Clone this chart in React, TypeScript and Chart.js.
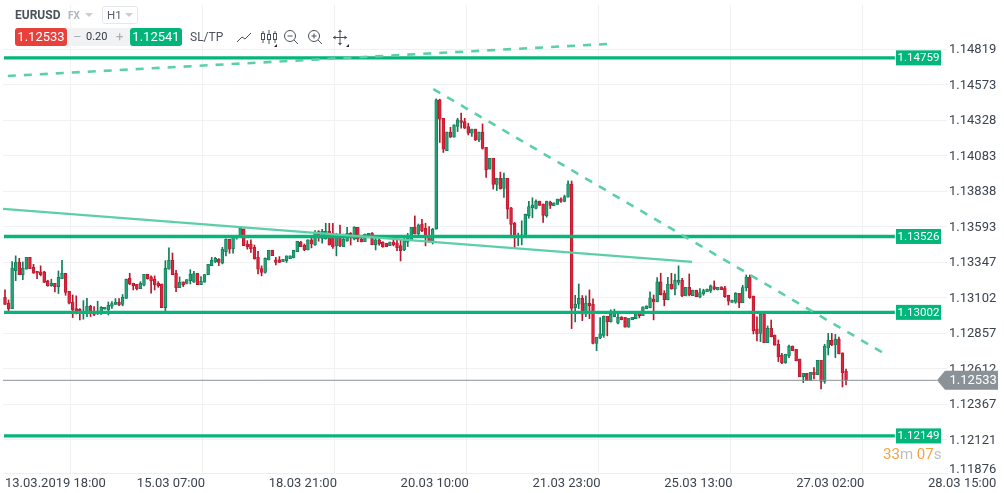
import React, { useEffect, useRef } from "react";
import { Chart, registerables } from "chart.js";

Chart.register(...registerables);

type Ohlc = [number, number, number, number];

// open, high, low, close, hourly bars
const barsMar13to15: Ohlc[] = [
  [1.13106,1.13157,1.13056,1.13056],[1.13065,1.13088,1.13014,1.13028],[1.13028,1.13352,1.13028,1.13306],[1.13290,1.13392,1.13221,1.13350],
  [1.13350,1.13375,1.13263,1.13263],[1.13263,1.13350,1.13228,1.13306],[1.13300,1.13382,1.13300,1.13382],[1.13382,1.13382,1.13304,1.13304],
  [1.13313,1.13334,1.13272,1.13272],[1.13286,1.13286,1.13235,1.13272],[1.13281,1.13323,1.13254,1.13263],[1.13281,1.13286,1.13208,1.13208],
  [1.13219,1.13224,1.13182,1.13187],[1.13187,1.13231,1.13182,1.13203],[1.13203,1.13203,1.13143,1.13180],[1.13180,1.13288,1.13132,1.13244],
  [1.13235,1.13362,1.13235,1.13272],[1.13272,1.13272,1.13120,1.13139],[1.13148,1.13148,1.13060,1.13065],[1.13072,1.13122,1.12966,1.13019],
  [1.13028,1.13116,1.12991,1.13012],[1.13024,1.13028,1.12950,1.13010],[1.12996,1.13083,1.12955,1.13010],[1.12996,1.13099,1.12973,1.13044],
  [1.13044,1.13051,1.12973,1.13007],[1.12994,1.13042,1.12980,1.12987],[1.12991,1.13079,1.12987,1.13005],[1.13005,1.13042,1.12987,1.13037],
  [1.13024,1.13037,1.13024,1.13037],[1.13019,1.13074,1.12984,1.13051],[1.13044,1.13076,1.13030,1.13063],[1.13056,1.13097,1.13056,1.13072],
  [1.13072,1.13097,1.13049,1.13053],[1.13056,1.13125,1.13047,1.13106],[1.13099,1.13231,1.13099,1.13231],[1.13237,1.13272,1.13194,1.13196],
  [1.13203,1.13203,1.13157,1.13187],[1.13196,1.13196,1.13157,1.13166],[1.13166,1.13214,1.13166,1.13203],[1.13189,1.13265,1.13185,1.13265],
  [1.13265,1.13265,1.13231,1.13235],[1.13247,1.13254,1.13134,1.13221],[1.13231,1.13254,1.13157,1.13194],[1.13203,1.13214,1.13175,1.13187],
  [1.13198,1.13198,1.13035,1.13035],[1.13035,1.13359,1.13012,1.13306],[1.13300,1.13447,1.13300,1.13362],[1.13362,1.13412,1.13263,1.13263],
  [1.13272,1.13293,1.13145,1.13173],[1.13173,1.13247,1.13173,1.13210],[1.13212,1.13212,1.13180,1.13194],[1.13201,1.13228,1.13198,1.13228],
  [1.13221,1.13297,1.13198,1.13265],[1.13210,1.13286,1.13208,1.13270],[1.13272,1.13272,1.13194,1.13194],[1.13194,1.13249,1.13194,1.13217],
  [1.13210,1.13265,1.13210,1.13263],[1.13263,1.13334,1.13263,1.13334],[1.13325,1.13382,1.13325,1.13362],[1.13350,1.13382,1.13346,1.13375],
  [1.13369,1.13373,1.13325,1.13346],
];

const barsMar18to20: Ohlc[] = [
  [1.13341,1.13451,1.13336,1.13438],[1.13421,1.13509,1.13392,1.13507],[1.13507,1.13507,1.13410,1.13438],[1.13442,1.13525,1.13410,1.13520],
  [1.13516,1.13530,1.13507,1.13525],[1.13520,1.13594,1.13520,1.13582],[1.13578,1.13578,1.13463,1.13463],[1.13474,1.13497,1.13438,1.13456],
  [1.13474,1.13502,1.13415,1.13442],[1.13451,1.13467,1.13369,1.13373],[1.13382,1.13424,1.13267,1.13300],[1.13304,1.13323,1.13254,1.13277],
  [1.13277,1.13378,1.13272,1.13375],[1.13364,1.13431,1.13364,1.13431],[1.13431,1.13431,1.13394,1.13394],[1.13364,1.13382,1.13329,1.13346],
  [1.13364,1.13387,1.13346,1.13346],[1.13352,1.13369,1.13352,1.13369],[1.13359,1.13392,1.13346,1.13392],[1.13373,1.13392,1.13373,1.13392],
  [1.13378,1.13431,1.13378,1.13431],[1.13421,1.13493,1.13421,1.13493],[1.13488,1.13493,1.13456,1.13456],[1.13465,1.13474,1.13428,1.13433],
  [1.13433,1.13502,1.13433,1.13502],[1.13502,1.13520,1.13447,1.13474],[1.13467,1.13566,1.13465,1.13553],[1.13559,1.13566,1.13493,1.13520],
  [1.13513,1.13576,1.13479,1.13562],[1.13511,1.13617,1.13507,1.13562],[1.13564,1.13617,1.13467,1.13467],[1.13548,1.13617,1.13444,1.13456],
  [1.13461,1.13548,1.13392,1.13536],[1.13518,1.13605,1.13456,1.13461],[1.13456,1.13543,1.13456,1.13507],[1.13493,1.13589,1.13493,1.13548],
  [1.13548,1.13553,1.13467,1.13530],[1.13507,1.13594,1.13502,1.13589],[1.13589,1.13589,1.13490,1.13507],[1.13507,1.13530,1.13488,1.13490],
  [1.13490,1.13543,1.13490,1.13543],[1.13534,1.13548,1.13534,1.13548],[1.13548,1.13553,1.13470,1.13470],[1.13470,1.13525,1.13433,1.13502],
  [1.13502,1.13507,1.13465,1.13474],[1.13486,1.13490,1.13451,1.13456],[1.13479,1.13479,1.13456,1.13456],[1.13463,1.13488,1.13463,1.13488],
  [1.13488,1.13507,1.13461,1.13467],[1.13481,1.13516,1.13428,1.13449],[1.13463,1.13507,1.13357,1.13428],[1.13433,1.13525,1.13428,1.13497],
  [1.13486,1.13548,1.13456,1.13516],[1.13502,1.13589,1.13502,1.13589],[1.13589,1.13668,1.13543,1.13543],[1.13543,1.13612,1.13536,1.13605],
  [1.13612,1.13645,1.13559,1.13566],[1.13582,1.13617,1.13461,1.13536],[1.13525,1.13594,1.13486,1.13493],[1.13490,1.13582,1.13474,1.13576],
];

const barsMar20to21: Ohlc[] = [
  [1.13577,1.14476,1.13577,1.14469],[1.14469,1.14474,1.14175,1.14336],[1.14342,1.14342,1.14106,1.14129],[1.14119,1.14246,1.14119,1.14246],
  [1.14246,1.14280,1.14209,1.14211],[1.14211,1.14296,1.14211,1.14296],[1.14285,1.14342,1.14250,1.14331],[1.14326,1.14377,1.14273,1.14313],
  [1.14319,1.14342,1.14271,1.14273],[1.14285,1.14308,1.14227,1.14239],[1.14239,1.14267,1.14216,1.14267],[1.14267,1.14267,1.14188,1.14193],
  [1.14193,1.14246,1.14181,1.14246],[1.14246,1.14303,1.14129,1.14133],[1.14142,1.14142,1.13933,1.13986],[1.13991,1.14066,1.13991,1.14066],
  [1.14066,1.14066,1.13853,1.13885],[1.13885,1.13928,1.13843,1.13928],[1.13928,1.13970,1.13853,1.13855],[1.13857,1.13963,1.13795,1.13928],
  [1.13928,1.13928,1.13650,1.13715],[1.13724,1.13728,1.13538,1.13609],[1.13618,1.13623,1.13443,1.13535],[1.13521,1.13549,1.13462,1.13533],
  [1.13521,1.13634,1.13468,1.13538],[1.13533,1.13680,1.13533,1.13680],[1.13669,1.13768,1.13652,1.13733],[1.13724,1.13793,1.13655,1.13742],
  [1.13719,1.13779,1.13717,1.13768],[1.13770,1.13770,1.13740,1.13740],[1.13749,1.13749,1.13623,1.13671],[1.13669,1.13770,1.13659,1.13770],
  [1.13763,1.13770,1.13719,1.13740],[1.13738,1.13758,1.13738,1.13758],[1.13747,1.13784,1.13747,1.13784],[1.13786,1.13793,1.13761,1.13768],
  [1.13768,1.13811,1.13765,1.13802],[1.13797,1.13910,1.13797,1.13889],
];

const barsMar21to25: Ohlc[] = [
  [1.13888,1.13909,1.12890,1.13030],[1.13035,1.13120,1.12936,1.13058],[1.13058,1.13198,1.13028,1.13099],[1.13099,1.13118,1.12945,1.12989],
  [1.12989,1.13116,1.12973,1.13065],[1.13065,1.13157,1.12959,1.13049],[1.13058,1.13095,1.12784,1.12787],[1.12787,1.12830,1.12738,1.12830],
  [1.12826,1.12966,1.12821,1.12853],[1.12842,1.12978,1.12830,1.12975],[1.12975,1.12975,1.12840,1.12938],[1.12938,1.13019,1.12934,1.12989],
  [1.12973,1.13024,1.12971,1.12996],[1.12927,1.12989,1.12922,1.12968],[1.12968,1.12973,1.12950,1.12952],[1.12968,1.12968,1.12899,1.12899],
  [1.12899,1.12961,1.12899,1.12961],[1.12952,1.12968,1.12952,1.12968],[1.12959,1.13001,1.12959,1.13001],[1.12994,1.13001,1.12964,1.12980],
  [1.12980,1.13040,1.12980,1.13040],[1.13028,1.13047,1.13028,1.13047],[1.13035,1.13143,1.13033,1.13102],[1.13093,1.13122,1.12950,1.13074],
  [1.13076,1.13242,1.13074,1.13212],[1.13212,1.13272,1.13122,1.13125],[1.13136,1.13152,1.13047,1.13090],[1.13090,1.13244,1.13088,1.13196],
  [1.13196,1.13272,1.13162,1.13164],[1.13164,1.13267,1.13122,1.13224],[1.13208,1.13323,1.13191,1.13224],[1.13224,1.13237,1.13111,1.13116],
  [1.13116,1.13175,1.13116,1.13175],[1.13175,1.13267,1.13116,1.13122],[1.13118,1.13155,1.13118,1.13155],[1.13155,1.13155,1.13111,1.13111],
  [1.13109,1.13166,1.13102,1.13139],[1.13129,1.13162,1.13120,1.13152],[1.13145,1.13162,1.13145,1.13162],[1.13150,1.13191,1.13139,1.13185],
  [1.13180,1.13219,1.13157,1.13162],[1.13157,1.13175,1.13157,1.13175],[1.13178,1.13178,1.13159,1.13159],[1.13171,1.13182,1.13106,1.13111],
  [1.13120,1.13120,1.13053,1.13079],[1.13070,1.13086,1.13070,1.13086],[1.13072,1.13139,1.13065,1.13134],
];

const barsMar26to27: Ohlc[] = [
  [1.13133,1.13133,1.13035,1.13069],[1.13069,1.13189,1.13069,1.13173],[1.13173,1.13260,1.13150,1.13246],[1.13246,1.13260,1.13099,1.13104],
  [1.13115,1.13115,1.12853,1.12876],[1.12887,1.12972,1.12805,1.12853],[1.12857,1.12991,1.12800,1.12991],[1.12991,1.12991,1.12793,1.12793],
  [1.12793,1.12908,1.12793,1.12892],[1.12892,1.12949,1.12832,1.12834],[1.12846,1.12846,1.12775,1.12775],[1.12782,1.12811,1.12662,1.12696],
  [1.12706,1.12719,1.12648,1.12655],[1.12655,1.12713,1.12650,1.12713],[1.12701,1.12777,1.12690,1.12770],[1.12770,1.12770,1.12738,1.12738],
  [1.12747,1.12747,1.12667,1.12669],[1.12680,1.12680,1.12558,1.12558],[1.12558,1.12581,1.12517,1.12581],[1.12581,1.12581,1.12531,1.12531],
  [1.12531,1.12588,1.12531,1.12588],[1.12588,1.12621,1.12542,1.12572],[1.12572,1.12671,1.12572,1.12671],[1.12671,1.12671,1.12473,1.12526],
  [1.12526,1.12782,1.12512,1.12770],[1.12756,1.12857,1.12708,1.12809],[1.12809,1.12857,1.12772,1.12777],[1.12777,1.12851,1.12690,1.12818],
  [1.12818,1.12832,1.12715,1.12717],[1.12722,1.12722,1.12487,1.12586],[1.12595,1.12611,1.12501,1.12533],
];

const priceTicks = [1.14819,1.14573,1.14328,1.14083,1.13838,1.13593,1.13347,1.13102,1.12857,1.12612,1.12367,1.12121,1.11876];
const timeTickBars = [0, 37, 74, 111, 148, 185, 222, 259];
const timeTickLabels = ["13.03.2019 18:00","15.03 07:00","18.03 21:00","20.03 10:00","21.03 23:00","25.03 13:00","27.03 02:00","28.03 15:00"];
const levels = [1.14759, 1.13526, 1.13002, 1.12149];
const currentPrice = 1.12533;
const trendTopDashed = [{ x: 0.8, y: 1.14634 }, { x: 169.2, y: 1.14855 }];
const trendSolid = [{ x: -0.56, y: 1.13716 }, { x: 192.8, y: 1.1335 }];
const trendFalling = [{ x: 120.2, y: 1.14544 }, { x: 246.4, y: 1.12722 }];

const candles: Ohlc[] = [...barsMar13to15, ...barsMar18to20, ...barsMar20to21, ...barsMar21to25, ...barsMar26to27];

const GREEN_FILL = "#23a274";
const GREEN_EDGE = "#0f7d58";
const RED_FILL = "#de233a";
const RED_EDGE = "#b8182e";
const LEVEL = "#05b57b";
const TREND = "#5ccfa8";
const GRID = "#f1f1f1";
const TEXT = "#3b4450";

const isUp = (c: Ohlc) => c[3] >= c[0];
const PX = (n: number) => n + "px";

const pillPlugin = {
  id: "pricePills",
  afterDraw(chart: any) {
    const { ctx, scales } = chart;
    ctx.save();
    ctx.font = "11.5px Roboto";
    ctx.textBaseline = "middle";
    levels.forEach((v) => {
      const y = scales.y.getPixelForValue(v);
      ctx.fillStyle = "#00b67a";
      ctx.fillRect(896, y - 7.5, 45, 15);
      ctx.fillStyle = "#fff";
      ctx.textAlign = "center";
      ctx.fillText(v.toFixed(5), 918.5, y + 0.5);
    });
    const y = scales.y.getPixelForValue(currentPrice);
    ctx.fillStyle = "#8a9197";
    ctx.beginPath();
    ctx.moveTo(937, y);
    ctx.lineTo(945, y - 9.5);
    ctx.lineTo(998, y - 9.5);
    ctx.lineTo(998, y + 9.5);
    ctx.lineTo(945, y + 9.5);
    ctx.closePath();
    ctx.fill();
    ctx.fillStyle = "#fff";
    ctx.font = "13px Roboto";
    ctx.textAlign = "left";
    ctx.fillText(currentPrice.toFixed(5), 949.5, y + 0.5);
    ctx.restore();
  },
};

const abs = (left: number, top: number, extra: React.CSSProperties = {}): React.CSSProperties => ({
  position: "absolute",
  left: PX(left),
  top: PX(top),
  fontFamily: "Roboto",
  whiteSpace: "nowrap",
  ...extra,
});

function Triangle({ x, y, color, w = 8, h = 4 }: { x: number; y: number; color: string; w?: number; h?: number }) {
  return (
    <svg style={abs(x, y)} width={w} height={h}>
      <polygon points={`0,0 ${w},0 ${w / 2},${h}`} fill={color} />
    </svg>
  );
}

function Toolbar() {
  const ic = { stroke: "#4a525b", strokeWidth: 1, fill: "none" };
  return (
    <>
      <div style={abs(15, 8, { fontSize: 12, fontWeight: 700, lineHeight: "15px", color: "#4c525b" })}>EURUSD</div>
      <div style={abs(68, 9, { fontSize: 10, fontWeight: 700, lineHeight: "13px", color: "#b0b6bd" })}>FX</div>
      <Triangle x={85} y={13} color="#c9cdd2" />
      <div style={abs(102, 6, { width: 36, height: 18, boxSizing: "border-box", border: "1px solid #e6e7e9", borderRadius: 3, background: "#fff" })} />
      <div style={abs(107, 8, { fontSize: 11.5, lineHeight: "15px", color: "#555c65" })}>H1</div>
      <Triangle x={125} y={13} color="#c9cdd2" />
      <div style={abs(15, 28, { width: 167, height: 18, background: "#f1f2f4", borderRadius: 3 })} />
      <div style={abs(15, 28, { width: 52, height: 18, background: "#e8413b", borderRadius: 3, color: "#fff", fontSize: 13, lineHeight: "18px", textAlign: "center" })}>1.12533</div>
      <div style={abs(73, 28, { fontSize: 13, lineHeight: "18px", color: "#a9aeb4" })}>–</div>
      <div style={abs(86, 28, { fontSize: 11, lineHeight: "18px", color: "#333a42" })}>0.20</div>
      <div style={abs(116, 28, { fontSize: 13, lineHeight: "18px", color: "#a9aeb4" })}>+</div>
      <div style={abs(130, 28, { width: 52, height: 18, background: "#00b47a", borderRadius: 3, color: "#fff", fontSize: 13, lineHeight: "18px", textAlign: "center" })}>1.12541</div>
      <div style={abs(190, 29, { fontSize: 12, lineHeight: "16px", color: "#4a525c" })}>SL/TP</div>
      <svg style={abs(230, 26)} width={124} height={24}>
        <polyline points="7,16 12,11 15,13 21,7" {...ic} />
        <line x1="33" y1="5" x2="33" y2="17" {...ic} />
        <rect x="31.5" y="7.5" width="3" height="6" {...ic} fill="#fff" />
        <line x1="39" y1="4" x2="39" y2="18" {...ic} />
        <rect x="37.5" y="8.5" width="3" height="5" {...ic} fill="#fff" />
        <line x1="45" y1="5" x2="45" y2="17" {...ic} />
        <rect x="43.5" y="7.5" width="3" height="6" {...ic} fill="#fff" />
        <polygon points="44,21 47,21 47,18" fill="#222" />
        <circle cx="60" cy="10" r="5.5" {...ic} />
        <line x1="57.5" y1="10" x2="62.5" y2="10" {...ic} />
        <line x1="64" y1="14" x2="68" y2="18" {...ic} />
        <circle cx="84" cy="10" r="5.5" {...ic} />
        <line x1="81.5" y1="10" x2="86.5" y2="10" {...ic} />
        <line x1="84" y1="7.5" x2="84" y2="12.5" {...ic} />
        <line x1="88" y1="14" x2="92" y2="18" {...ic} />
        <line x1="103" y1="11.5" x2="117" y2="11.5" {...ic} />
        <line x1="110" y1="5" x2="110" y2="18" {...ic} />
        <polygon points="110,3.5 108,6 112,6" fill="#4a525b" />
        <polygon points="110,19.5 108,17 112,17" fill="#4a525b" />
        <polygon points="103,11.5 105.5,9.5 105.5,13.5" fill="#4a525b" />
        <polygon points="117,11.5 114.5,9.5 114.5,13.5" fill="#4a525b" />
        <polygon points="116,21 119,21 119,18" fill="#222" />
      </svg>
    </>
  );
}

export default function App() {
  const ref = useRef<HTMLCanvasElement | null>(null);

  useEffect(() => {
    document.body.style.margin = "0";
    document.body.style.background = "#fff";
    const levelSets = levels.map((v) => ({
      type: "line" as const,
      data: [{ x: -0.28, y: v }, { x: 249.7, y: v }],
      borderColor: LEVEL,
      borderWidth: 3.4,
      pointRadius: 0,
      order: 1,
    }));
    const trendStyle = { type: "line" as const, borderColor: TREND, pointRadius: 0, order: 0 };
    const chart = new Chart(ref.current as HTMLCanvasElement, {
      type: "bar",
      plugins: [pillPlugin],
      data: {
        datasets: [
          ...levelSets,
          { ...trendStyle, data: trendTopDashed, borderWidth: 2.6, borderDash: [8, 8] },
          { ...trendStyle, data: trendSolid, borderWidth: 2.2 },
          { ...trendStyle, data: trendFalling, borderWidth: 2.6, borderDash: [8, 8] },
          {
            type: "line" as const,
            data: [{ x: -0.56, y: currentPrice }, { x: 261.5, y: currentPrice }],
            borderColor: "#8a9197",
            borderWidth: 1,
            pointRadius: 0,
            order: 2,
          },
          {
            data: candles.map((c, i) => ({ x: i, y: [c[0], c[3]] })),
            backgroundColor: candles.map((c) => (isUp(c) ? GREEN_FILL : RED_FILL)),
            borderColor: candles.map((c) => (isUp(c) ? GREEN_EDGE : RED_EDGE)),
            borderWidth: 0.8,
            borderSkipped: false,
            barThickness: 2.9,
            grouped: false,
            order: 3,
          },
          {
            data: candles.map((c, i) => ({ x: i, y: [c[2], c[1]] })),
            backgroundColor: candles.map((c) => (isUp(c) ? GREEN_EDGE : RED_EDGE)),
            borderWidth: 0,
            barThickness: 1,
            grouped: false,
            order: 4,
          },
        ] as any,
      },
      options: {
        responsive: false,
        animation: false,
        layout: { padding: { left: 3, top: 5, right: 0, bottom: 0 } },
        plugins: { legend: { display: false }, tooltip: { enabled: false } },
        scales: {
          x: {
            type: "linear",
            min: -0.56,
            max: 264.33,
            offset: false,
            grid: { color: GRID, drawTicks: false },
            border: { display: true, color: "#eeeeee" },
            ticks: {
              autoSkip: false,
              maxRotation: 0,
              minRotation: 0,
              align: "start",
              padding: 3,
              color: TEXT,
              font: { family: "Roboto", size: 13 },
              callback: (v: any) => timeTickLabels[timeTickBars.indexOf(Number(v))] ?? "",
            },
            afterBuildTicks: (s: any) => {
              s.ticks = timeTickBars.map((value) => ({ value }));
            },
            afterFit: (s: any) => {
              s.height = 20;
              s.paddingLeft = s.paddingRight = s.paddingTop = s.paddingBottom = 0;
            },
          },
          y: {
            position: "right",
            min: 1.11893,
            max: 1.15124,
            grid: {
              color: (c: any) => (c.tick && c.tick.value < 1.11893 ? "rgba(0,0,0,0)" : GRID),
              drawTicks: false,
            },
            border: { display: false },
            ticks: {
              autoSkip: false,
              padding: 2,
              labelOffset: 0.8,
              color: TEXT,
              font: { family: "Roboto", size: 13, lineHeight: 1 },
              callback: (v: any) => {
                const s = Number(v).toFixed(5);
                return Number(v) < 1.11893 ? [s, ""] : s;
              },
            },
            afterBuildTicks: (s: any) => {
              s.ticks = priceTicks.map((value) => ({ value }));
            },
            afterFit: (s: any) => {
              s.width = 57;
              s.paddingLeft = s.paddingRight = s.paddingTop = s.paddingBottom = 0;
            },
          },
        },
      } as any,
    });
    return () => chart.destroy();
  }, []);

  return (
    <div style={{ position: "absolute", left: 0, top: 0, width: 1004, height: 493, overflow: "hidden", background: "#fff" }}>
      <canvas ref={ref} width={1004} height={493} style={{ display: "block", width: 1004, height: 493 }} />
      <Toolbar />
      <div style={abs(883, 445, { fontSize: 15, lineHeight: "18px", color: "#bdbdbd" })}>
        <span style={{ color: "#f7a23f" }}>33</span>m <span style={{ color: "#f7a23f" }}>07</span>s
      </div>
    </div>
  );
}
